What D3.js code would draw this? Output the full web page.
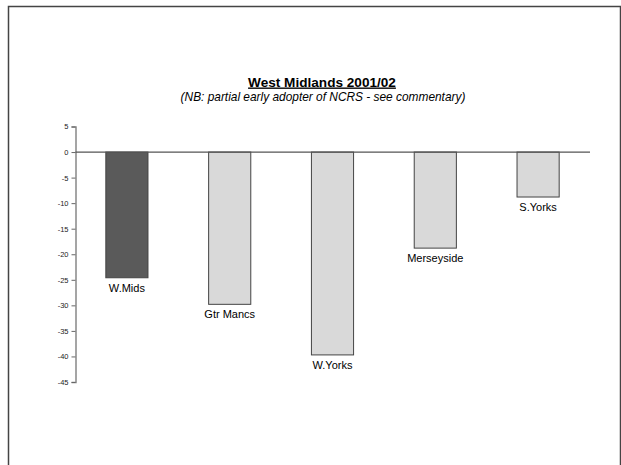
<!DOCTYPE html>
<html>
<head>
<meta charset="utf-8">
<script src="https://cdn.jsdelivr.net/npm/d3@7"></script>
<style>
  html, body { margin: 0; padding: 0; background: #fff; }
  svg { display: block; }
  text { font-family: "Liberation Sans", Arial, sans-serif; }
</style>
</head>
<body>
<div id="chart"></div>
<script>
// ---- data ----
const categories = ["W.Mids", "Gtr Mancs", "W.Yorks", "Merseyside", "S.Yorks"];
const values = [-24.6, -29.8, -39.7, -18.8, -8.8];
const highlight = ["W.Mids"];
const yTicks = [5, 0, -5, -10, -15, -20, -25, -30, -35, -40, -45];
const titleText = "West Midlands 2001/02";
const subtitleText = "(NB: partial early adopter of NCRS - see commentary)";

const W = 621, H = 465;
const svg = d3.select("#chart").append("svg").attr("width", W).attr("height", H);

// frame
svg.append("path")
  .attr("d", "M8.5,470 V6.5 H620.5 V470")
  .attr("fill", "none").attr("stroke", "#444").attr("stroke-width", 1.5);

const x = d3.scaleBand().domain(categories).range([75.5, 589.5]).paddingInner(0.59).paddingOuter(0.295);
const y = d3.scaleLinear().domain([-45, 5]).range([382, 126.5]);

// title
svg.append("text")
  .attr("x", 322).attr("y", 86.5).attr("text-anchor", "middle")
  .attr("font-size", 13.6).attr("font-weight", "bold").attr("fill", "#000")
  .attr("text-decoration", "underline")
  .text(titleText);
svg.append("text")
  .attr("x", 323).attr("y", 101).attr("text-anchor", "middle")
  .attr("font-size", 11.9).attr("font-style", "italic").attr("fill", "#000")
  .text(subtitleText);

// y axis
const yAxis = d3.axisLeft(y).tickValues(yTicks).tickSize(4).tickPadding(3)
  .tickFormat(d => String(d));
const gy = svg.append("g").attr("transform", "translate(75.5,0)").call(yAxis);
gy.select(".domain").attr("stroke", "#888").attr("stroke-width", 1.5);
gy.selectAll(".tick line").attr("stroke", "#666");
gy.selectAll(".tick text").attr("font-size", 7.5).attr("fill", "#222")
  .attr("font-family", "Liberation Sans, Arial, sans-serif");

// bars
svg.append("g").selectAll("rect").data(categories).join("rect")
  .attr("x", (d) => x(d))
  .attr("width", x.bandwidth())
  .attr("y", y(0))
  .attr("height", (d, i) => y(values[i]) - y(0))
  .attr("fill", d => highlight.includes(d) ? "#5a5a5a" : "#d9d9d9")
  .attr("stroke", "#444").attr("stroke-width", 1);

// zero line
svg.append("line")
  .attr("x1", 75.5).attr("x2", 590).attr("y1", y(0)).attr("y2", y(0))
  .attr("stroke", "#555").attr("stroke-width", 1.2);

// labels
svg.append("g").selectAll("text").data(categories).join("text")
  .attr("x", d => x(d) + x.bandwidth() / 2)
  .attr("y", (d, i) => y(values[i]) + 14)
  .attr("text-anchor", "middle").attr("font-size", 11).attr("fill", "#000")
  .text(d => d);
</script>
</body>
</html>
